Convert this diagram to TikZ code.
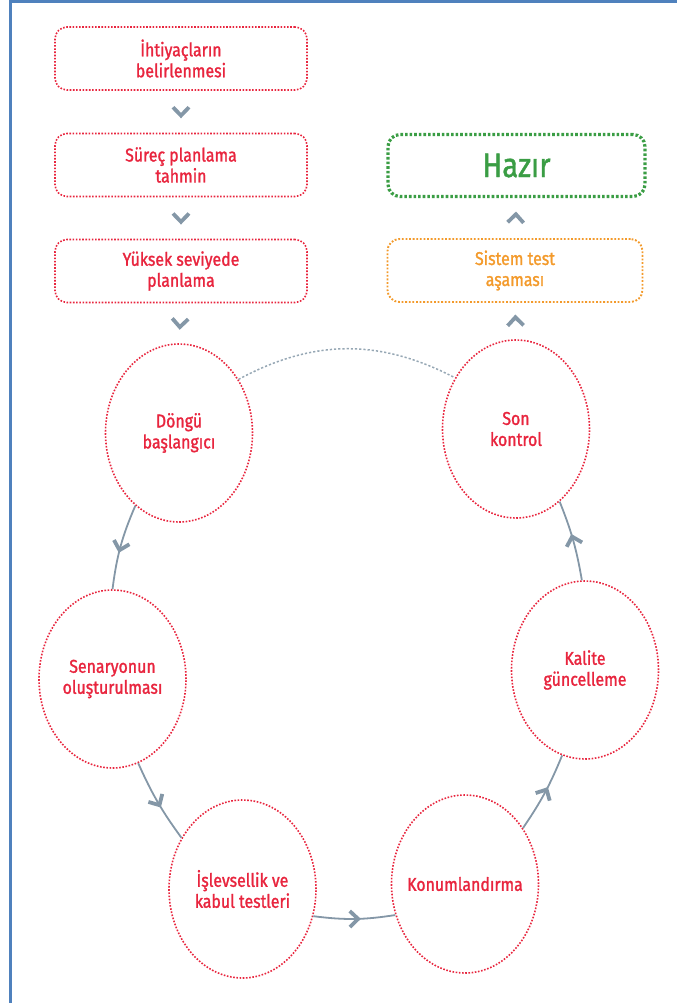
\documentclass[tikz,border=0pt]{standalone}
\usepackage{fontspec}
\setmainfont{Fira Sans}[FakeStretch=0.86, FakeBold=1.4]
\usetikzlibrary{shapes.geometric,decorations.markings}

\definecolor{stepred}{HTML}{E8253E}
\definecolor{readygreen}{HTML}{3A9D44}
\definecolor{testorange}{HTML}{F39A2B}
\definecolor{linkgray}{HTML}{8497A7}
\definecolor{frameblue}{HTML}{4F81BD}

\tikzset{
  box/.style={draw=stepred, rounded corners=12pt, line width=1.6pt,
    dash pattern=on 1.6pt off 1.6pt, minimum width=252pt, minimum height=63pt,
    align=center, text=stepred, font=\fontsize{18.5}{21}\selectfont, inner sep=0pt},
  readybox/.style={box, draw=readygreen, text=readygreen, line width=3.2pt,
    dash pattern=on 2.6pt off 2pt, minimum width=257pt, minimum height=62pt,
    font=\fontsize{34}{36}\selectfont},
  testbox/.style={box, draw=testorange, text=testorange, line width=1.9pt,
    dash pattern=on 1.8pt off 1.8pt, minimum width=255pt},
  phase/.style={ellipse, draw=stepred, line width=1.6pt,
    dash pattern=on 1.6pt off 1.6pt, minimum width=147pt, minimum height=178pt,
    align=center, text=stepred, font=\fontsize{18.5}{21}\selectfont,
    inner xsep=-10pt, inner ysep=0pt},
  chevline/.style={draw=linkgray, line width=3.8pt, line cap=butt, line join=miter, dash pattern={}},
  midchev/.style={postaction={decorate}, decoration={markings,
    mark=at position 0.5 with {\draw[chevline] (-4.5pt,-8pt)--(3.8pt,0pt)--(-4.5pt,8pt);}}},
  link/.style={draw=linkgray, line width=1.8pt, midchev},
  gap/.style={midchev},
  loopback/.style={draw=linkgray!85, line width=1.5pt, dash pattern=on 2.2pt off 2pt}
}

\begin{document}
\begin{tikzpicture}[x=1pt,y=1pt]
  \useasboundingbox (0,0) rectangle (677,-1003);
  % page frame
  \draw[frameblue, line width=2.5pt] (9,-1.5) -- (677,-1.5);
  \draw[frameblue, line width=2.5pt] (10.5,0) -- (10.5,-1003);

  % planning column
  \node[box] (needs) at (181,-58.5) {İhtiyaçların\\belirlenmesi};
  \node[box] (estimate) at (181,-165) {Süreç planlama\\tahmin};
  \node[box] (highlevel) at (181,-271) {Yüksek seviyede\\planlama};

  % release column
  \node[readybox] (ready) at (516.5,-165.5) {Hazır};
  \node[testbox] (systest) at (515,-270.5) {Sistem test\\aşaması};

  % iteration cycle
  \node[phase] (start) at (179,-433) {Döngü\\başlangıcı};
  \node[phase] (final) at (516,-429) {Son\\kontrol};
  \node[phase] (scenario) at (112.5,-679) {Senaryonun\\oluşturulması};
  \node[phase] (accept) at (242.5,-889) {İşlevsellik ve\\kabul testleri};
  \node[phase] (deploy) at (465,-884) {Konumlandırma};
  \node[phase] (quality) at (585,-670) {Kalite\\güncelleme};

  % chevrons between stacked steps
  \path[gap] (needs.south) -- (estimate.north);
  \path[gap] (estimate.south) -- (highlevel.north);
  \path[gap] (highlevel.south) -- (start.north);
  \path[gap] (final.north) -- (systest.south);
  \path[gap] (systest.north) -- (ready.south);

  % cycle connectors
  \draw[link] (start.239) to[bend right=8] (scenario.90);
  \draw[link] (scenario.287) to[bend right=6] (accept.140);
  \draw[link] (accept.339) to[bend right=8] (deploy.204);
  \draw[link] (deploy.44) to[bend right=6] (quality.255);
  \draw[link] (quality.92) to[bend right=6] (final.301);
  \draw[loopback] (start.42) to[bend left=28] (final.140);
\end{tikzpicture}
\end{document}
